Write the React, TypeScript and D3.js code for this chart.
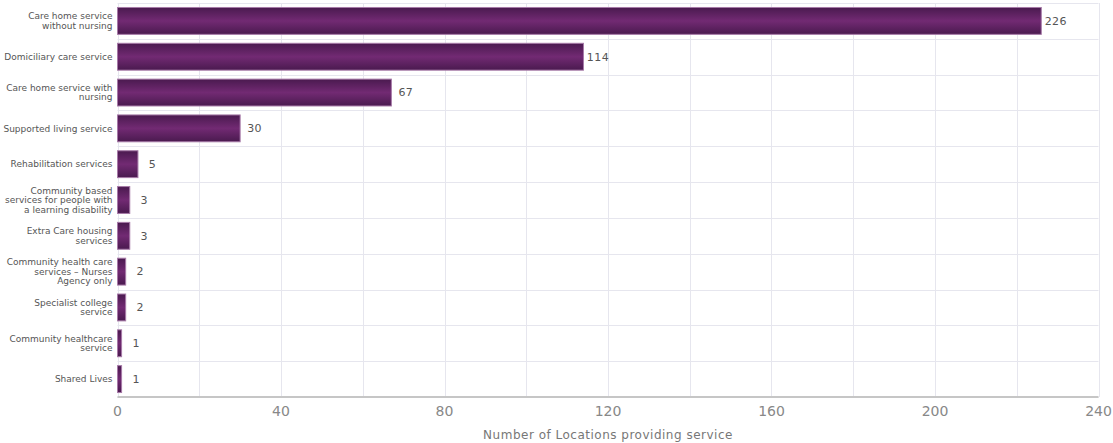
import React, { useEffect, useRef } from "react";
import * as d3 from "d3";

const categories = [
  "Care home service without nursing",
  "Domiciliary care service",
  "Care home service with nursing",
  "Supported living service",
  "Rehabilitation services",
  "Community based services for people with a learning disability",
  "Extra Care housing services",
  "Community health care services – Nurses Agency only",
  "Specialist college service",
  "Community healthcare service",
  "Shared Lives",
];
const values = [226, 114, 67, 30, 5, 3, 3, 2, 2, 1, 1];
const xTicks = [0, 40, 80, 120, 160, 200, 240];
const gridTicks = [0, 20, 40, 60, 80, 100, 120, 140, 160, 180, 200, 220, 240];
const axisTitle = "Number of Locations providing service";

const W = 1113;
const H = 443;
const M = { left: 117.5, right: 1098.5, top: 3, bottom: 397 };
const LABEL_FONT = "9px 'DejaVu Sans', Verdana, sans-serif";

function wrap(text: string, maxW: number): string[] {
  const canvas = document.createElement("canvas");
  const ctx = canvas.getContext("2d")!;
  ctx.font = LABEL_FONT;
  const words = text.split(" ");
  const lines: string[] = [];
  let cur = "";
  for (const w of words) {
    const t = cur ? cur + " " + w : w;
    if (ctx.measureText(t).width > maxW && cur) {
      lines.push(cur);
      cur = w;
    } else cur = t;
  }
  if (cur) lines.push(cur);
  return lines;
}

export default function App() {
  const ref = useRef<SVGSVGElement>(null);
  useEffect(() => {
    const svg = d3.select(ref.current);
    svg.selectAll("*").remove();
    const x = d3.scaleLinear().domain([0, 240]).range([M.left, M.right]);
    const y = d3.scaleBand<string>().domain(categories).range([M.top, M.bottom]).paddingInner(0.25).paddingOuter(0.125);
    const step = y.step();

    const defs = svg.append("defs");
    const g = defs.append("linearGradient").attr("id", "barGrad").attr("x1", 0).attr("y1", 0).attr("x2", 0).attr("y2", 1);
    g.append("stop").attr("offset", "0%").attr("stop-color", "#4a1a4f");
    g.append("stop").attr("offset", "50%").attr("stop-color", "#722a73");
    g.append("stop").attr("offset", "100%").attr("stop-color", "#4a1a4f");

    svg.append("g").selectAll("line").data(gridTicks).join("line")
      .attr("x1", (d) => Math.round(x(d)) + 0.5).attr("x2", (d) => Math.round(x(d)) + 0.5)
      .attr("y1", M.top).attr("y2", M.bottom)
      .attr("stroke", "#e6e6ee").attr("stroke-width", 1);

    const bounds = d3.range(categories.length + 1).map((i) => M.top + i * step);
    svg.append("g").selectAll("line").data(bounds).join("line")
      .attr("x1", M.left).attr("x2", M.right)
      .attr("y1", (d) => Math.round(d) + 0.5).attr("y2", (d) => Math.round(d) + 0.5)
      .attr("stroke", "#e6e6ee").attr("stroke-width", 1);

    svg.append("g").selectAll("rect").data(values).join("rect")
      .attr("x", M.left)
      .attr("y", (_, i) => y(categories[i])!)
      .attr("width", (d) => x(d) - M.left)
      .attr("height", y.bandwidth())
      .attr("fill", "url(#barGrad)")
      .attr("stroke", "#a77aa8").attr("stroke-width", 1);

    svg.append("g").selectAll("text").data(values).join("text")
      .attr("x", (d) => x(d) + 14.5)
      .attr("y", (_, i) => y(categories[i])! + y.bandwidth() / 2)
      .attr("dy", "0.35em")
      .attr("text-anchor", "middle")
      .attr("font-family", "'DejaVu Sans', Verdana, sans-serif")
      .attr("font-size", 11)
      .attr("letter-spacing", 0.4)
      .attr("fill", "#555")
      .text((d) => String(d));

    categories.forEach((c) => {
      const lines = wrap(c, 112);
      const cy = y(c)! + y.bandwidth() / 2;
      const lh = 9.6;
      const t = svg.append("text")
        .attr("text-anchor", "end")
        .attr("font-family", "'DejaVu Sans', Verdana, sans-serif")
        .attr("font-size", 9)
        .attr("fill", "#555");
      lines.forEach((l, k) => {
        t.append("tspan").attr("x", 112.5)
          .attr("y", cy + (k - (lines.length - 1) / 2) * lh)
          .attr("dy", "0.35em").text(l);
      });
    });

    svg.append("line").attr("x1", M.left).attr("x2", M.right).attr("y1", M.bottom).attr("y2", M.bottom)
      .attr("stroke", "#c6c6c6").attr("stroke-width", 2);

    svg.append("g").selectAll("text").data(xTicks).join("text")
      .attr("x", (d) => x(d)).attr("y", 411).attr("dy", "0.35em")
      .attr("text-anchor", "middle")
      .attr("font-family", "'DejaVu Sans', Verdana, sans-serif")
      .attr("font-size", 14).attr("fill", "#888")
      .text((d) => String(d));

    svg.append("text").attr("x", (M.left + M.right) / 2).attr("y", 435).attr("dy", "0.35em")
      .attr("text-anchor", "middle")
      .attr("font-family", "'DejaVu Sans', Verdana, sans-serif")
      .attr("font-size", 12).attr("letter-spacing", 0.5).attr("fill", "#777")
      .text(axisTitle);
  }, []);
  return (
    <svg ref={ref} width={W} height={H} style={{ position: "absolute", left: 0, top: 0, background: "#fff" }} />
  );
}
